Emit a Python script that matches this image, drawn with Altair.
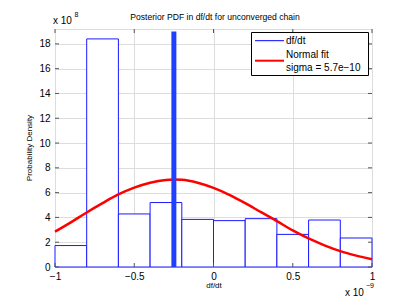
import altair as alt
import pandas as pd

# Histogram bins (x in units of 1e-9, density in units of 1e8)
bin_start = [-1.0, -0.8, -0.6, -0.4, -0.2, 0.0, 0.2, 0.4, 0.6, 0.8]
bin_end = [-0.8, -0.6, -0.4, -0.2, 0.0, 0.2, 0.4, 0.6, 0.8, 1.0]
bin_height = [1.73, 18.4, 4.28, 5.2, 3.84, 3.74, 3.9, 2.63, 3.79, 2.34]

# Normal fit curve
fit_x = [-1.0, -0.9, -0.8, -0.7, -0.6, -0.5, -0.4, -0.3, -0.25, -0.2, -0.1, 0.0,
         0.1, 0.2, 0.3, 0.4, 0.5, 0.6, 0.7, 0.8, 0.9, 1.0]
fit_y = [2.85, 3.6, 4.4, 5.15, 5.85, 6.4, 6.8, 7.02, 7.05, 7.03, 6.8, 6.38,
         5.82, 5.15, 4.42, 3.7, 2.95, 2.3, 1.75, 1.28, 0.92, 0.62]

# Mean line
mean_x = [-0.25]
mean_top = [19.0]

x_ticks = [-1, -0.5, 0, 0.5, 1]
y_ticks = [0, 2, 4, 6, 8, 10, 12, 14, 16, 18]

W, H = 317, 238
FONT = "Liberation Sans"
BLUE = "#1a1aff"

xs = alt.Scale(domain=[-1, 1], nice=False, zero=False)
ys = alt.Scale(domain=[0, 19.2], nice=False, zero=False)

hist_df = pd.DataFrame({"start": bin_start, "end": bin_end, "h": bin_height,
                        "base": [0.0] * len(bin_start)})
fit_df = pd.DataFrame({"x": fit_x, "y": fit_y})
mean_df = pd.DataFrame({"x": mean_x, "top": mean_top, "base": [0.0]})
xt_df = pd.DataFrame({"v": x_ticks})
yt_df = pd.DataFrame({"v": y_ticks})

x_axis = alt.Axis(values=x_ticks, tickCount=len(x_ticks), format="~g", title=None,
                  grid=True, ticks=False, domain=False, labelPadding=4,
                  labelOverlap=False, labelFlush=False)
y_axis = alt.Axis(values=y_ticks, tickCount=len(y_ticks), title=None, grid=True,
                  ticks=False, domain=False, labelPadding=5, labelOverlap=False,
                  labelFlush=False)

bars = alt.Chart(hist_df).mark_rect(fill="white", stroke=BLUE, strokeWidth=1).encode(
    x=alt.X("start:Q", scale=xs, axis=x_axis),
    x2="end:Q",
    y=alt.Y("h:Q", scale=ys, axis=y_axis),
    y2="base:Q",
)

curve = alt.Chart(fit_df).mark_line(color="#ff0000", strokeWidth=2.5, interpolate="monotone").encode(
    x=alt.X("x:Q", scale=xs, axis=x_axis), y=alt.Y("y:Q", scale=ys, axis=y_axis)
)

mean_line = alt.Chart(mean_df).mark_rule(color="#2040ff", strokeWidth=5).encode(
    x=alt.X("x:Q", scale=xs, axis=x_axis), y=alt.Y("base:Q", scale=ys, axis=y_axis), y2="top:Q"
)

TC = "#555555"
tick_l = alt.Chart(yt_df).mark_rule(color=TC).encode(
    y=alt.Y("v:Q", scale=ys, axis=y_axis), x=alt.value(0), x2=alt.value(4))
tick_r = alt.Chart(yt_df).mark_rule(color=TC).encode(
    y=alt.Y("v:Q", scale=ys, axis=y_axis), x=alt.value(W - 4), x2=alt.value(W))
tick_b = alt.Chart(xt_df).mark_rule(color=TC).encode(
    x=alt.X("v:Q", scale=xs, axis=x_axis), y=alt.value(H - 4), y2=alt.value(H))
tick_t = alt.Chart(xt_df).mark_rule(color=TC).encode(
    x=alt.X("v:Q", scale=xs, axis=x_axis), y=alt.value(0), y2=alt.value(4))

# Legend (drawn by hand)
leg_box = alt.Chart(pd.DataFrame({"a": [0]})).mark_rect(
    fill="white", stroke="black", strokeWidth=1).encode(
    x=alt.value(196.5), x2=alt.value(313.5), y=alt.value(3.5), y2=alt.value(46.5))
leg_blue = alt.Chart(pd.DataFrame({"a": [1]})).mark_rule(color="#0000ff", strokeWidth=1).encode(
    x=alt.value(200), x2=alt.value(229), y=alt.value(11.7))
leg_red = alt.Chart(pd.DataFrame({"a": [2]})).mark_rule(color="#ff0000", strokeWidth=2).encode(
    x=alt.value(200), x2=alt.value(229), y=alt.value(31.7))

def txt(s, x, y, size=10, align="left", angle=0, baseline="middle", key=0):
    return alt.Chart(pd.DataFrame({"t": [s], "k": [key]})).mark_text(
        font=FONT, fontSize=size, align=align, baseline=baseline, angle=angle, color="black"
    ).encode(text="t:N", x=alt.value(x), y=alt.value(y))

texts = [
    txt("df/dt", 231, 11.5, key=1),
    txt("Normal fit", 231, 26, key=2),
    txt("sigma = 5.7e\u221210", 231, 38.7, key=3),
    txt("Posterior PDF in df/dt for unconverged chain", 160, -12, size=8.6, align="center", key=4),
    txt("x 10", -2, -8, size=10, key=5),
    txt("8", 19.5, -14, size=7, key=6),
    txt("x 10", 290, 263.5, size=10, key=7),
    txt("\u22129", 311, 257, size=7, key=8),
    txt("df/dt", 159, 257, size=8, align="center", key=9),
    txt("Probability Density", -25, 119, size=8, align="center", angle=270, key=10),
]

chart = alt.layer(bars, curve, mean_line, tick_l, tick_r, tick_b, tick_t,
                  leg_box, leg_blue, leg_red, *texts).properties(
    width=W, height=H,
    autosize=alt.AutoSizeParams(type="none"),
    padding={"left": 47, "top": 21, "right": 20, "bottom": 31},
).configure_view(stroke="#555555", strokeWidth=1).configure_axis(
    gridColor="#888888", gridDash=[1, 3], gridOpacity=0.8, gridWidth=1,
    labelFont=FONT, labelFontSize=10, labelColor="black",
).configure(background="white")

chart.save("out.html", embed_options={"renderer": "svg", "actions": False})
